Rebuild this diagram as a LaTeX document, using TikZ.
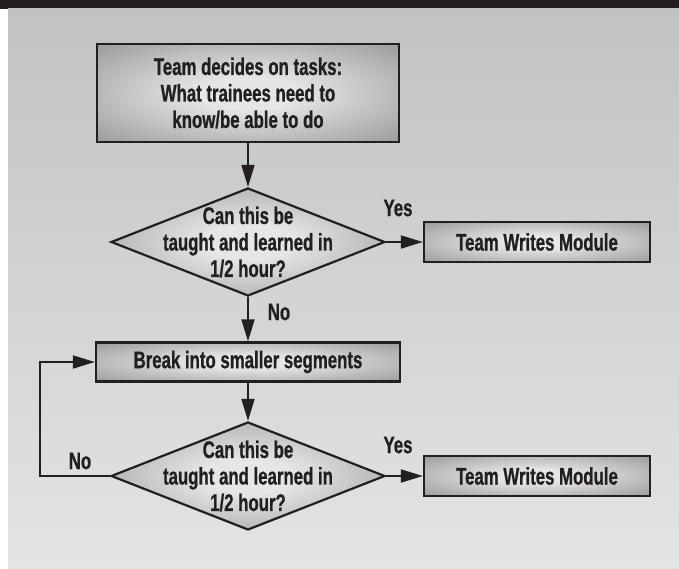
\documentclass[tikz,border=0pt]{standalone}
\usepackage{fontspec}
\newfontfamily\flowfont{Liberation Sans}[FakeStretch=0.7, BoldFeatures={FakeBold=0.8}]
\usetikzlibrary{shapes.geometric,arrows.meta}
\definecolor{inkdark}{HTML}{231F20}
\definecolor{bgtop}{HTML}{C1C2C4}
\definecolor{bgbottom}{HTML}{E3E4E6}
\definecolor{glowcenter}{HTML}{E6E6E6}
\definecolor{glowedge}{HTML}{9A9A9C}
\definecolor{glowcorner}{HTML}{8E8E90}
\pgfdeclareradialshading{boxglow}{\pgfpoint{0bp}{0bp}}{color(0bp)=(glowcenter); color(8bp)=(glowcenter); color(36bp)=(glowedge); color(50bp)=(glowcorner)}

\begin{document}
\begin{tikzpicture}[x=1pt, y=-1pt,
    every node/.style={font=\flowfont\bfseries\fontsize{24}{26.5}\selectfont, text=inkdark},
    taskbox/.style={draw=inkdark, line width=2.2pt, shading=boxglow, align=center, inner sep=0pt},
    decision/.style={diamond, draw=inkdark, line width=2.2pt, shading=boxglow, align=center,
        inner xsep=-60pt, inner ysep=-30pt, minimum width=274pt, minimum height=108pt},
    flowarrow/.style={draw=inkdark, line width=1.8pt, -{Triangle[length=22pt, width=13pt]}}]
    \useasboundingbox (0,0) rectangle (679,569);
    % backdrop
    \fill[inkdark] (0,0) rectangle (679,9);
    \shade[top color=bgtop, bottom color=bgbottom] (8,9) rectangle (679,569);

    \node[taskbox, minimum width=302pt, minimum height=98pt] (task) at (248,93)
        {Team decides on tasks:\\What trainees need to\\know/be able to do};
    \node[decision] (q1) at (248,242) {Can this be\\taught and learned in\\1/2 hour?};
    \node[taskbox, minimum width=226pt, minimum height=40pt] (write1) at (537,242) {Team Writes Module};
    \node[taskbox, minimum width=304pt, minimum height=39pt] (split) at (248,362) {Break into smaller segments};
    \node[decision] (q2) at (248,476) {Can this be\\taught and learned in\\1/2 hour?};
    \node[taskbox, minimum width=226pt, minimum height=40pt] (write2) at (537,476) {Team Writes Module};

    \node (yes1) at (398,208) {Yes};
    \node (no1) at (279,312) {No};
    \node (yes2) at (398,445) {Yes};
    \node (no2) at (80,461) {No};

    \coordinate (loopcorner) at (40,476);

    \draw[flowarrow] (task) -- (q1);
    \draw[flowarrow] (q1) -- (write1);
    \draw[flowarrow] (q1) -- (split);
    \draw[flowarrow] (split) -- (q2);
    \draw[flowarrow] (q2) -- (write2);
    \draw[flowarrow] (q2.west) -- (loopcorner) |- (split.west);
\end{tikzpicture}
\end{document}
